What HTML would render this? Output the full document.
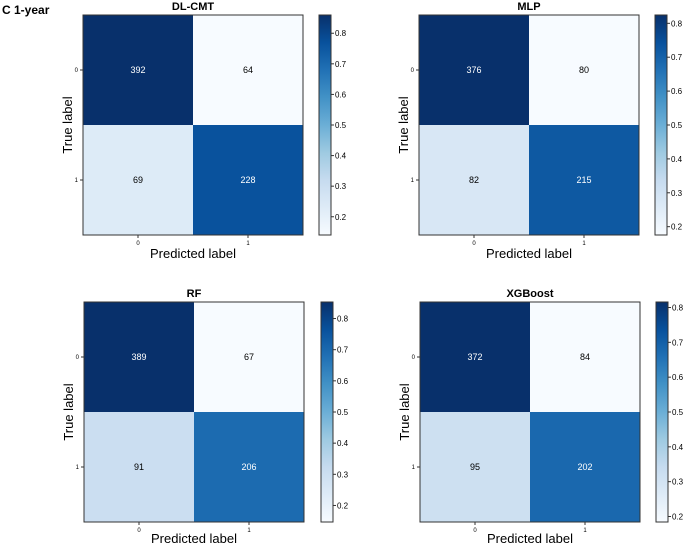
<!DOCTYPE html>
<html><head><meta charset="utf-8"><style>
body{margin:0;background:#fff;}
svg{display:block;font-family:"Liberation Sans","DejaVu Sans",sans-serif;}
</style></head><body>
<svg id="c" width="685" height="545" viewBox="0 0 685 545">
<text x="2" y="14" font-size="12" font-weight="bold">C  1-year</text>
<defs>
<linearGradient id="blues" x1="0" y1="1" x2="0" y2="0">
<stop offset="0" stop-color="#f7fbff"/><stop offset="0.125" stop-color="#deebf7"/><stop offset="0.25" stop-color="#c6dbef"/><stop offset="0.375" stop-color="#9ecae1"/><stop offset="0.5" stop-color="#6baed6"/><stop offset="0.625" stop-color="#4292c6"/><stop offset="0.75" stop-color="#2171b5"/><stop offset="0.875" stop-color="#08519c"/><stop offset="1" stop-color="#08306b"/>
</linearGradient>
</defs>
</svg>
<script>
const modelNames = ["DL-CMT","MLP","RF","XGBoost"];
const countsDLCMT = [[392,64],[69,228]];
const countsMLP = [[376,80],[82,215]];
const countsRF = [[389,67],[91,206]];
const countsXGB = [[372,84],[95,202]];
const classLabels = ["0","1"];
const allCounts = [countsDLCMT,countsMLP,countsRF,countsXGB];
const layouts = [
 {px:83,py:15,cbx:319,xo:23},
 {px:419,py:15,cbx:655,xo:23},
 {px:84,py:302,cbx:321,xo:21},
 {px:420,py:302,cbx:656,xo:21}
];
const W=220,H=220,CBW=12;
const stops=[[247,251,255],[222,235,247],[198,219,239],[158,202,225],[107,174,214],[66,146,198],[33,113,181],[8,81,156],[8,48,107]];
function blues(t){t=Math.max(0,Math.min(1,t));const f=t*8,i=Math.min(7,Math.floor(f)),r=f-i;
 const a=stops[i],b=stops[i+1];return `rgb(${a.map((v,k)=>Math.round(v+(b[k]-v)*r)).join(',')})`;}
const svg=document.getElementById('c');const NS='http://www.w3.org/2000/svg';
function el(tag,attrs,text){const e=document.createElementNS(NS,tag);for(const k in attrs)e.setAttribute(k,attrs[k]);if(text!==undefined)e.textContent=text;svg.appendChild(e);return e;}
allCounts.forEach((cm,p)=>{
 const L=layouts[p];
 const norm=cm.map(r=>{const s=r[0]+r[1];return r.map(v=>v/s);});
 const flat=norm.flat();const vmin=Math.min(...flat),vmax=Math.max(...flat);
 const maxCount=Math.max(...cm.flat());const thresh=maxCount/2;
 const n=classLabels.length;const cw=W/n,ch=H/n;
 const xs=i=>L.px+i*cw, ys=j=>L.py+j*ch;
 const t=el('text',{x:L.px+W/2,y:L.py-5,'text-anchor':'middle','font-size':11,'font-weight':'bold'},modelNames[p]);
 
 
 for(let r=0;r<n;r++)for(let c=0;c<n;c++){
  const cell=el('rect',{x:xs(c),y:ys(r),width:cw,height:ch,fill:blues((norm[r][c]-vmin)/(vmax-vmin))});
  
  
  const tx=el('text',{x:xs(c)+cw/2,y:ys(r)+ch/2+3,'text-anchor':'middle','font-size':9,fill:cm[r][c]>thresh?'#fff':'#000'},String(cm[r][c]));
  
  
 }
 const fr=el('rect',{x:L.px,y:L.py,width:W,height:H,fill:'none',stroke:'#333','stroke-width':1});
 
 
 classLabels.forEach((lab,i)=>{
  el('line',{x1:xs(i)+cw/2,x2:xs(i)+cw/2,y1:L.py+H,y2:L.py+H+3,stroke:'#333'});
  const xl=el('text',{x:xs(i)+cw/2,y:L.py+H+10,'text-anchor':'middle','font-size':6},lab);
  
  
  el('line',{x1:L.px-3,x2:L.px,y1:ys(i)+ch/2,y2:ys(i)+ch/2,stroke:'#333'});
  const yl=el('text',{x:L.px-5,y:ys(i)+ch/2+2,'text-anchor':'end','font-size':6},lab);
  
  
 });
 const xt=el('text',{x:L.px+W/2,y:L.py+H+L.xo,'text-anchor':'middle','font-size':13},'Predicted label');
 
 
 const yx=L.px-11,yy=L.py+H/2;
 const yt=el('text',{x:yx,y:yy,'text-anchor':'middle','font-size':13,transform:`rotate(-90 ${yx} ${yy})`},'True label');
 
 
 const cb=el('rect',{x:L.cbx,y:L.py,width:CBW,height:H,fill:'url(#blues)',stroke:'#333','stroke-width':1});
 
 
 const cy=v=>L.py+H-(v-vmin)/(vmax-vmin)*H;
 for(let k=1;k<=9;k++){const v=k/10;if(v<vmin||v>vmax)continue;
  el('line',{x1:L.cbx+CBW,x2:L.cbx+CBW+3,y1:cy(v),y2:cy(v),stroke:'#333'});
  const ct=el('text',{x:L.cbx+CBW+4,y:cy(v)+3,'font-size':8},v.toFixed(1));
  
  
 }
});
</script>
</body></html>
